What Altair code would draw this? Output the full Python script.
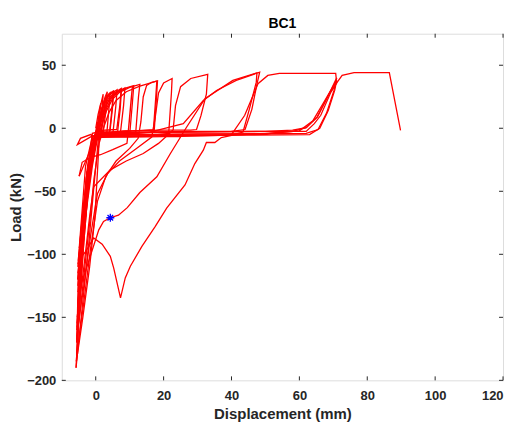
import altair as alt
import pandas as pd

x_ticks = [0, 20, 40, 60, 80, 100, 120]
y_ticks = [-200, -150, -100, -50, 0, 50]

cyc01_x = [0.0, 0.7, 1.5, 1.1, 0.4, -0.8, -2.4, -3.9, -4.8]
cyc01_y = [0.0, 11.0, 20.0, 8.0, -3.0, -7.0, -30.0, -70.0, -95.0]
cyc02_x = [-4.8, -3.6, -2.0, -0.6, 0.6, 1.4, 2.2, 1.8, 1.0, 0.0, -1.6, -3.4, -5.0]
cyc02_y = [-95, -60, -30, -10, 5, 18, 27, 12, -3, -6, -25, -75, -110]
cyc03_x = [-5.0, -3.8, -2.2, -0.8, 0.6, 1.8, 2.8, 2.4, 1.6, 0.2, -1.3, -3.3, -5.2]
cyc03_y = [-110, -70, -36, -13, 3, 15, 24, 10, -4, -6, -20, -72, -125]
cyc04_x = [-5.2, -4.0, -2.5, -0.9, 0.7, 2.0, 2.8, 3.4, 3.0, 2.2, 0.5, -1.5, -3.5, -5.3]
cyc04_y = [-125, -82, -45, -16, 3, 17, 25, 29, 14, -3, -6, -22, -80, -140]
cyc05_x = [-5.3, -4.1, -2.6, -1.0, 0.3, 1.0, 1.8, 2.8, 4.2, 3.9, 3.3, 1.0, -1.0, -3.0, -5.0, -5.4]
cyc05_y = [-140, -92, -50, -19, -4, 5, 16, 24, 28, 16, -3, -5, -7, -30, -100, -150]
cyc06_x = [-5.4, -4.2, -2.6, -1.0, 0.4, 1.1, 2.0, 3.0, 4.0, 5.2, 4.8, 4.1, 1.5, -1.0, -5.4, -4.5, -1.5, 0.0, -2.5, -4.2, -5.5]
cyc06_y = [-150, -100, -55, -22, -4, 6, 17, 24, 27.5, 29.5, 16, -3, -5, -6, -13, -8, -5, -7, -35, -100, -160]
cyc06b_x = [-5.5, -4.3, -2.7, -1.0, 0.5, 1.2, 2.1, 3.2, 4.2, 5.3, 4.9, 4.2, 1.5, -1.0, -2.8, -4.6, -5.5]
cyc06b_y = [-160, -110, -60, -25, -5, 5, 16, 23.5, 27, 29, 15, -2, -2.5, -4, -40, -110, -158]
cyc07_x = [-5.5, -4.3, -2.7, -1.0, 0.5, 1.3, 2.2, 3.3, 4.6, 6.3, 5.9, 5.1, 2.0, -0.5, -2.8, -4.5, -5.5]
cyc07_y = [-158, -105, -58, -24, -4, 6, 16, 23.5, 27.5, 30.5, 17, -3, -5, -7, -40, -110, -155]
cyc08_x = [-5.5, -4.4, -2.8, -1.0, 0.6, 1.5, 2.5, 3.6, 5.2, 7.5, 7.1, 6.2, 2.5, 0.0, -2.5, -4.5, -5.6]
cyc08_y = [-155, -102, -58, -25, -4, 6, 16, 23, 27.5, 31.5, 18, -1, -1.5, -3, -35, -110, -170]
cyc08b_x = [-5.6, -4.5, -2.9, -1.1, 0.7, 1.6, 2.6, 3.8, 5.5, 7.6, 7.2, 6.4, 2.5, 0.0, -2.5, -4.5, -5.6]
cyc08b_y = [-170, -115, -62, -26, -4, 6, 15, 22, 27, 31, 15, -4, -6, -7, -35, -110, -168]
cyc09_x = [-5.6, -4.4, -2.8, -1.0, 0.7, 1.7, 2.8, 4.0, 5.8, 8.6, 8.2, 7.3, 3.0, 0.0, -2.0, -4.9]
cyc09_y = [-168, -112, -62, -26, -4, 6, 16, 23, 28, 32, 18, -3, -5, -6, -20, -38]
cyc10_x = [-4.9, -4.0, -1.5, 1.4, 5.0, 9.2, 10.0, 10.8, 10.4, 9.6, 6.0, 2.0, 0.0, -2.0, -4.0, -5.8]
cyc10_y = [-38, -27, -23, -21, -17, -12, 8, 33, 22, -2, -3, -3.5, -6, -30, -100, -190]
cyc10b_x = [-5.8, -3.9, -2.0, -0.5, 0.8, 1.9, 3.0, 4.5, 6.5, 9.0, 11.2, 10.8, 10.0, 5.0, 0.0, -2.0, -4.0, -5.7]
cyc10b_y = [-190, -140, -90, -45, -8, 5, 15, 23, 28.5, 32, 33.8, 20, -5, -6.5, -7, -30, -100, -185]
cyc11_x = [-5.7, -3.8, -1.8, -0.3, 0.5, 1.0, 2.0, 3.2, 4.8, 7.0, 10.0, 13.0, 12.6, 11.8, 8.0, 3.0, 0.0, -2.0, -4.0, -5.6]
cyc11_y = [-185, -150, -110, -72, -35, -10, 4, 14, 22.5, 28.5, 32.5, 34.8, 25, -3, -5, -5, -7, -30, -100, -180]
cyc12_x = [-5.6, -3.6, -1.5, 0.5, 3.0, 6.0, 10.0, 12.5, 13.3, 14.0, 15.0, 16.5, 18.0, 17.7, 17.0, 12.0, 5.0, 0.5, -1.5, -3.5, -5.4]
cyc12_y = [-180, -140, -95, -58, -38, -26, -16, -8, 5, 25, 34, 36.5, 37.5, 25, -1, -2, -3, -5, -25, -90, -165]
cyc12b_x = [-5.4, -3.6, -1.8, -0.5, 1.0, 2.5, 4.0, 6.0, 9.0, 13.0, 18.2, 17.8, 17.2, 10.0, 2.0, 0.0, -1.5, -3.5, -5.4]
cyc12b_y = [-165, -120, -75, -40, -12, 2, 13, 22, 29, 33.5, 37.5, 20, -3, -4.5, -5, -7, -25, -90, -160]
cyc13_x = [-5.4, -3.5, -1.5, 0.5, 3.5, 7.0, 12.0, 16.5, 17.5, 18.5, 20.0, 22.5, 22.3, 21.5, 15.0, 6.0, 0.5, -1.5, -3.5, -5.3]
cyc13_y = [-160, -125, -85, -52, -36, -26, -16, -7, 8, 28, 36, 39.5, 28, -4, -6, -6.5, -7, -22, -85, -150]
cyc14_x = [-5.3, -3.5, -1.8, -0.6, 4.3, 9.0, 14.0, 18.5, 22.8, 23.5, 25.0, 28.0, 33.0, 32.6, 31.0, 29.7, 28.0, 20.0, 8.0, 0.5, -1.5, -3.5, -5.2]
cyc14_y = [-150, -110, -70, -46.5, -33, -26, -20, -12, -1.6, 18, 33, 39.5, 42.8, 27, 10, -1, -1.5, -1.5, -2, -4, -20, -80, -130]
cyc15_x = [-5.2, -3.8, -1.9, 0.9, 2.3, 4.3, 6.7, 9.3, 13.0, 18.0, 22.0, 26.8, 32.2, 40.4, 47.5, 47.3, 45.3, 43.4, 40.0, 25.0, 10.0, 0.5, -1.5, -3.5, -5.3]
cyc15_y = [-130, -120, -104, -80.6, -74, -71, -69, -63, -51, -38.5, -20, 1, 23.5, 38, 44, 36.6, 15.6, -3, -5.5, -6.5, -7, -7, -20, -70, -120]
cyc16_x = [-5.3, -3.0, -1.0, 0.5, 5.0, 16.0, 25.8, 31.7, 35.6, 41.4, 48.3, 47.5, 46.0, 44.0, 40.0, 20.0, 5.0, 0.5, -1.5, -3.5, -5.2]
cyc16_y = [-120, -70, -30, -8, -5, -3, 3.7, 22, 30, 38, 44.5, 35, 15, -1, -2.5, -3, -3.5, -5, -20, -70, -115]
cyc17_x = [-5.2, -3.2, -1.2, 0.5, 10.0, 30.0, 40.0, 43.9, 47.8, 50.7, 54.1, 70.7, 71.0, 69.3, 66.3, 64.4, 62.0, 50.0, 30.0, 10.0, 0.5, -1.5, -3.5, -5.2]
cyc17_y = [-115, -65, -25, -6, -6, -5.5, -5, 10.3, 35.3, 41.9, 43.5, 43.5, 36, 28.7, 10.3, 3.7, -2.5, -2.5, -2.5, -3, -5, -20, -70, -110]
cyc18_x = [-5.2, -3.2, -1.2, 0.5, 10.0, 30.0, 50.0, 58.0, 62.0, 65.3, 68.8, 71.0, 70.2, 68.0, 65.5, 62.0, 40.0, 15.0, 0.5, -1.5, -3.5, -5.2]
cyc18_y = [-110, -62, -24, -5, -3.5, -3, -2.5, -1.5, 0.5, 9, 27.6, 40, 30, 12, -1, -4, -4.5, -5, -6, -20, -70, -108]
cyc19_x = [-5.2, -3.2, -1.2, 0.5, 10.0, 30.0, 50.0, 60.0, 64.0, 67.5, 71.0, 70.4, 68.5, 66.0, 63.0, 45.0, 20.0, 0.5, -1.5, -3.5, -5.2]
cyc19_y = [-108, -62, -24, -5, -5, -4.5, -4.5, -2, 6, 22, 38, 30, 14, 0, -5, -5.5, -6, -7, -20, -70, -105]
cyc20_x = [-5.2, -3.0, -0.6, 1.9, 4.3, 5.3, 7.3, 8.7, 10.2, 13.6, 17.5, 20.9, 26.3, 29.2, 31.7, 32.6, 35.1, 37.0, 40.4, 50.0, 58.0, 62.0, 65.3, 68.8, 71.0, 72.6, 76.1, 86.5, 89.8]
cyc20_y = [-105, -98, -87, -92, -101.6, -111, -134.5, -118.7, -109.5, -93.7, -78, -63.4, -45, -28, -17.4, -11.3, -11.3, -7.4, -5.5, -4.0, -2.5, 0.5, 9, 27.6, 36, 42, 44.2, 44.2, -1.6]

star_x = [4.3]
star_y = [-71.0]

cycles = [
    (cyc01_x, cyc01_y), (cyc02_x, cyc02_y), (cyc03_x, cyc03_y), (cyc04_x, cyc04_y),
    (cyc05_x, cyc05_y), (cyc06_x, cyc06_y), (cyc06b_x, cyc06b_y), (cyc07_x, cyc07_y),
    (cyc08_x, cyc08_y), (cyc08b_x, cyc08b_y), (cyc09_x, cyc09_y), (cyc10_x, cyc10_y),
    (cyc10b_x, cyc10b_y), (cyc11_x, cyc11_y), (cyc12_x, cyc12_y), (cyc12b_x, cyc12b_y),
    (cyc13_x, cyc13_y), (cyc14_x, cyc14_y), (cyc15_x, cyc15_y), (cyc16_x, cyc16_y),
    (cyc17_x, cyc17_y), (cyc18_x, cyc18_y), (cyc19_x, cyc19_y), (cyc20_x, cyc20_y),
]

rows = []
for ci, (xs_, ys_) in enumerate(cycles):
    for k, (a, b) in enumerate(zip(xs_, ys_)):
        rows.append({"x": a, "y": b, "cycle": ci, "seq": k})
df = pd.DataFrame(rows)
star_df = pd.DataFrame({"x": star_x, "y": star_y})
xt_df = pd.DataFrame({"t": x_ticks})
yt_df = pd.DataFrame({"t": y_ticks})

W, H = 443, 348
FONT = "Liberation Sans"
TXT = "#262626"
xsc = alt.Scale(domain=[-10, 120], nice=False, zero=False)
ysc = alt.Scale(domain=[-200, 75], nice=False, zero=False)

lines = alt.Chart(df).mark_line(color="#ff0000", strokeWidth=1.3, clip=True).encode(
    x=alt.X("x:Q", scale=xsc, axis=alt.Axis(
        values=x_ticks, title="Displacement (mm)", tickSize=0, domain=False, grid=False,
        labelFont=FONT, labelFontSize=13, labelFontWeight="bold", labelColor=TXT,
        labelPadding=9, titleFont=FONT, titleFontSize=15, titleFontWeight="bold",
        titleColor=TXT, titleY=38, titleBaseline="alphabetic")),
    y=alt.Y("y:Q", scale=ysc, axis=alt.Axis(
        values=y_ticks, title="Load (kN)", tickSize=0, domain=False, grid=False,
        labelFont=FONT, labelFontSize=13, labelFontWeight="bold", labelColor=TXT,
        labelPadding=6, titleFont=FONT, titleFontSize=15, titleFontWeight="bold",
        titleColor=TXT, titleX=-46, titleY=H / 2, titleBaseline="middle")),
    detail="cycle:N",
    order="seq:Q",
)

star_path = "M-1,0L1,0M0,-1L0,1M-0.7,-0.7L0.7,0.7M-0.7,0.7L0.7,-0.7"
star = alt.Chart(star_df).mark_point(shape=star_path, filled=False, color="#0000ff",
                                     strokeWidth=1.3, size=64, opacity=1).encode(
    x=alt.X("x:Q", scale=xsc), y=alt.Y("y:Q", scale=ysc))

tick_kw = dict(color=TXT, strokeWidth=1)
xt_bot = alt.Chart(xt_df).mark_rule(**tick_kw).encode(
    x=alt.X("t:Q", scale=xsc), y=alt.value(H - 4), y2=alt.value(H))
xt_top = alt.Chart(xt_df).mark_rule(**tick_kw).encode(
    x=alt.X("t:Q", scale=xsc), y=alt.value(0), y2=alt.value(4))
yt_left = alt.Chart(yt_df).mark_rule(**tick_kw).encode(
    y=alt.Y("t:Q", scale=ysc), x=alt.value(0), x2=alt.value(4))
yt_right = alt.Chart(yt_df).mark_rule(**tick_kw).encode(
    y=alt.Y("t:Q", scale=ysc), x=alt.value(W - 4), x2=alt.value(W))

chart = alt.layer(lines, star, xt_bot, xt_top, yt_left, yt_right).properties(
    width=W, height=H,
    title=alt.TitleParams("BC1", font=FONT, fontSize=14, fontWeight="bold", color="#000000",
                          anchor="middle", frame="group", offset=6, dy=15,
                          baseline="alphabetic"),
    autosize=alt.AutoSizeParams(type="none"),
    padding={"left": 54, "top": 25, "right": 8, "bottom": 44},
).configure_view(stroke=TXT, strokeWidth=1).configure(background="white")

chart.save("out.html", embed_options={"renderer": "svg", "actions": False})
